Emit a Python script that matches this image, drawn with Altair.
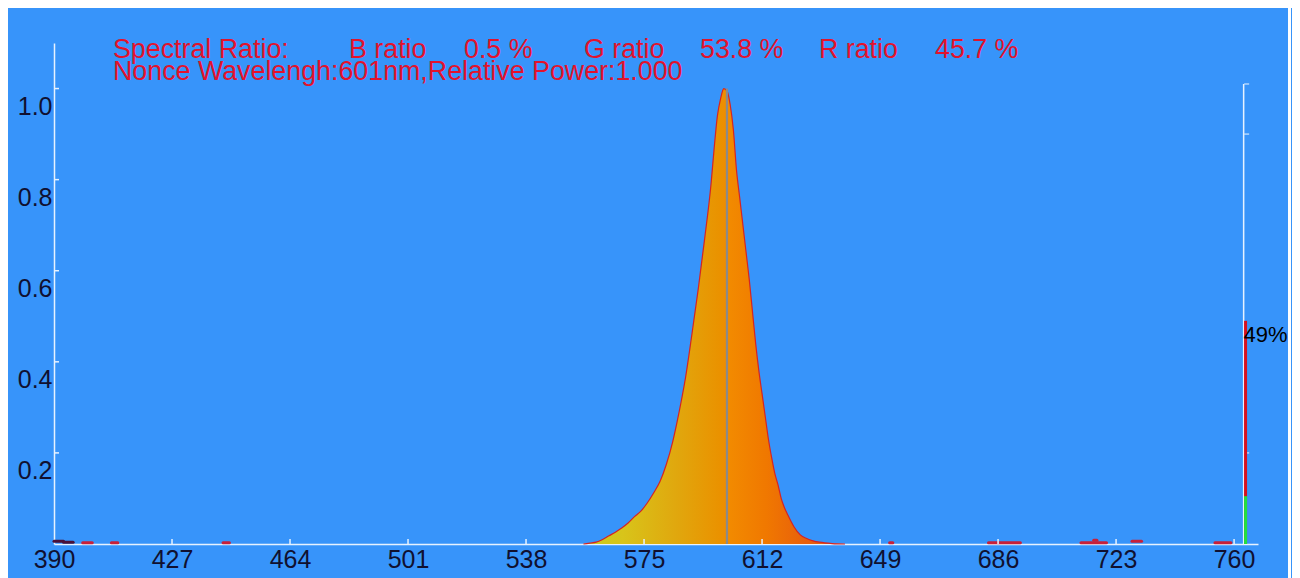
import altair as alt
import pandas as pd

# ---------------- data ----------------
peak_nm = [556, 558, 560, 562, 564, 566, 568, 570, 572, 574, 576, 578, 580, 582, 584,
           586, 588, 590, 592, 594, 596, 597, 598, 599, 600, 601, 602, 603, 604, 605,
           606, 607, 608, 609, 610, 611, 612, 613, 614, 615, 616, 617, 618, 619, 620,
           622, 624, 626, 628, 630, 634, 638]
peak_val = [0.0, 0.002, 0.004, 0.010, 0.018, 0.026, 0.035, 0.046, 0.060, 0.072, 0.090,
            0.112, 0.137, 0.175, 0.225, 0.290, 0.365, 0.460, 0.560, 0.670, 0.790, 0.870,
            0.940, 0.978, 1.000, 0.995, 0.965, 0.910, 0.820, 0.760, 0.700, 0.640, 0.580,
            0.510, 0.440, 0.380, 0.330, 0.280, 0.230, 0.190, 0.155, 0.130, 0.100, 0.080,
            0.065, 0.038, 0.020, 0.012, 0.007, 0.004, 0.001, 0.0]

x_tick_values = [390, 427, 464, 501, 538, 575, 612, 649, 686, 723, 760]
y_tick_values = [0.2, 0.4, 0.6, 0.8, 1.0]
right_tick_values = [1.01, 0.9, 0.2]

nonce_nm = [601]
nonce_power = [1.0]

# ratio bar on the right axis
ratio_nm = [763.6]
red_ratio = [0.49]
green_ratio = [0.105]
ratio_label = ["49%"]
right_axis_nm = [763.0]
right_axis_top = [1.01]

# tiny baseline noise bumps (start nm, end nm, height)
noise_start = [390, 393, 399, 408, 443, 652, 683, 712, 716, 728, 754]
noise_end = [393, 396, 402, 410, 445, 653, 693, 720, 717, 731, 759]
noise_h = [0.006, 0.004, 0.003, 0.003, 0.003, 0.003, 0.003, 0.003, 0.008, 0.006, 0.003]
noise_kind = ["dark", "dark", "red", "red", "red", "red", "red", "red", "red", "red", "red"]

header_line1 = ["Spectral Ratio:", "B ratio", "0.5 %", "G ratio", "53.8 %", "R ratio", "45.7 %"]
header_line2 = "Nonce Wavelengh:601nm,Relative Power:1.000"

# ---------------- style ----------------
BG = "#3794FA"
RED_TXT = "#E3122C"
AXIS_WHITE = "#E6F2FF"
LABEL_COL = "#101030"
FONT = "Liberation Sans"

X_DOMAIN = [390, 767.5]
Y_DOMAIN = [0, 1.1]
PW, PH = 1204, 501

xs = alt.Scale(domain=X_DOMAIN, nice=False, zero=False)
ys = alt.Scale(domain=Y_DOMAIN, nice=False)

peak_df = pd.DataFrame({"nm": peak_nm, "v": peak_val})

gradient = alt.Gradient(
    gradient="linear",
    stops=[
        alt.GradientStop(offset=0.0, color="#C8CC22"),
        alt.GradientStop(offset=0.15, color="#D8C41A"),
        alt.GradientStop(offset=0.35, color="#E0A80E"),
        alt.GradientStop(offset=0.52, color="#EA9200"),
        alt.GradientStop(offset=0.56, color="#F28A00"),
        alt.GradientStop(offset=0.70, color="#F07800"),
        alt.GradientStop(offset=0.85, color="#E8600C"),
        alt.GradientStop(offset=1.0, color="#E05814"),
    ],
    x1=0, x2=1, y1=0, y2=0,
)

x_axis = alt.Axis(
    values=x_tick_values, title=None, grid=False, tickSize=0,
    labelFontSize=25, labelFont=FONT, labelColor=LABEL_COL, labelPadding=3,
    labelFlush=False, labelOverlap=False, labelBound=False,
    domainColor=AXIS_WHITE, domainWidth=1.5, format="d",
)
y_axis = alt.Axis(
    values=y_tick_values, title=None, grid=False, tickSize=0, format=".1f",
    labelFontSize=25, labelFont=FONT, labelColor=LABEL_COL, labelPadding=2,
    labelBaseline="top", labelOffset=6, labelAlign="right", labelFlush=False,
    domainColor=AXIS_WHITE, domainWidth=1.5,
)

area = alt.Chart(peak_df).mark_area(
    interpolate="monotone", color=gradient, opacity=1, fillOpacity=1,
    line={"color": "#D42424", "strokeWidth": 1.2},
).encode(
    x=alt.X("nm:Q", scale=xs, axis=x_axis),
    y=alt.Y("v:Q", scale=ys, axis=y_axis),
)

nonce_df = pd.DataFrame({"nm": nonce_nm, "p": nonce_power, "z": [0.0] * len(nonce_nm)})
nonce = alt.Chart(nonce_df).mark_rule(color="#8A8A8A", strokeWidth=2.2).encode(
    x=alt.X("nm:Q", scale=xs), y=alt.Y("z:Q", scale=ys), y2="p:Q"
)

noise_df = pd.DataFrame({"s": noise_start, "e": noise_end, "h": noise_h, "k": noise_kind})
noise = alt.Chart(noise_df).mark_rule(strokeWidth=3, strokeCap="round").encode(
    x=alt.X("s:Q", scale=xs), x2="e:Q", y=alt.Y("h:Q", scale=ys),
    color=alt.Color("k:N", scale=alt.Scale(domain=["dark", "red"], range=["#4A1038", "#C8203A"]), legend=None),
)

xt_df = pd.DataFrame({"t": x_tick_values[1:]})
xticks = alt.Chart(xt_df).mark_rule(color=AXIS_WHITE, strokeWidth=1.5).encode(
    x=alt.X("t:Q", scale=xs), y=alt.value(PH), y2=alt.value(PH - 5)
)
yt_df = pd.DataFrame({"t": y_tick_values})
yticks = alt.Chart(yt_df).mark_rule(color=AXIS_WHITE, strokeWidth=1.5).encode(
    y=alt.Y("t:Q", scale=ys), x=alt.value(0), x2=alt.value(5)
)

raxis_df = pd.DataFrame({"nm": right_axis_nm, "top": right_axis_top, "z": [0.0]})
raxis = alt.Chart(raxis_df).mark_rule(color=AXIS_WHITE, strokeWidth=1.5).encode(
    x=alt.X("nm:Q", scale=xs), y=alt.Y("z:Q", scale=ys), y2="top:Q"
)
rt_df = pd.DataFrame({"t": right_tick_values,
                      "nm": right_axis_nm * len(right_tick_values)})
rticks = alt.Chart(rt_df).mark_tick(color=AXIS_WHITE, thickness=1.5, size=5,
                                    orient="horizontal", xOffset=3).encode(
    x=alt.X("nm:Q", scale=xs), y=alt.Y("t:Q", scale=ys)
)

ratio_df = pd.DataFrame({"nm": ratio_nm, "r": red_ratio, "g": green_ratio,
                         "lab": ratio_label, "z": [0.0]})
red_bar = alt.Chart(ratio_df).mark_rule(color="#D8101E", strokeWidth=3).encode(
    x=alt.X("nm:Q", scale=xs), y=alt.Y("z:Q", scale=ys), y2="r:Q"
)
green_bar = alt.Chart(ratio_df).mark_rule(color="#22E040", strokeWidth=3).encode(
    x=alt.X("nm:Q", scale=xs), y=alt.Y("z:Q", scale=ys), y2="g:Q"
)
ratio_txt = alt.Chart(ratio_df).mark_text(
    align="left", baseline="top", fontSize=22, font=FONT, color="#000000", dx=-2, dy=4
).encode(x=alt.X("nm:Q", scale=xs), y=alt.Y("r:Q", scale=ys), text="lab:N")

# header text (annotation positions in plot pixels)
hdr_x = [59, 295, 410, 530, 646, 765, 881]
hdr_layers = []
for label, px in zip(header_line1, hdr_x):
    hdr_layers.append(
        alt.Chart(pd.DataFrame({"t": [label]})).mark_text(
            align="left", baseline="alphabetic", fontSize=26.8, font=FONT, color=RED_TXT
        ).encode(x=alt.value(px), y=alt.value(15), text="t:N")
    )
hdr_layers.append(
    alt.Chart(pd.DataFrame({"t": [header_line2]})).mark_text(
        align="left", baseline="alphabetic", fontSize=26.8, font=FONT, color=RED_TXT
    ).encode(x=alt.value(59), y=alt.value(37), text="t:N")
)

border = alt.Chart(pd.DataFrame({"a": [0]})).mark_rule(color="#FFFFFF", strokeWidth=3).encode(
    x=alt.value(1235.5), y=alt.value(-40), y2=alt.value(PH + 40)
)

chart = alt.layer(
    area, nonce, noise, xticks, yticks, raxis, rticks, red_bar, green_bar, ratio_txt,
    *hdr_layers, border,
).properties(
    width=PW, height=PH,
    background=BG,
    padding={"left": 46, "top": 35, "right": 34, "bottom": 34},
    autosize=alt.AutoSizeParams(type="none"),
).configure_view(stroke=None)

chart.save("out.html", embed_options={"renderer": "svg", "actions": False})
